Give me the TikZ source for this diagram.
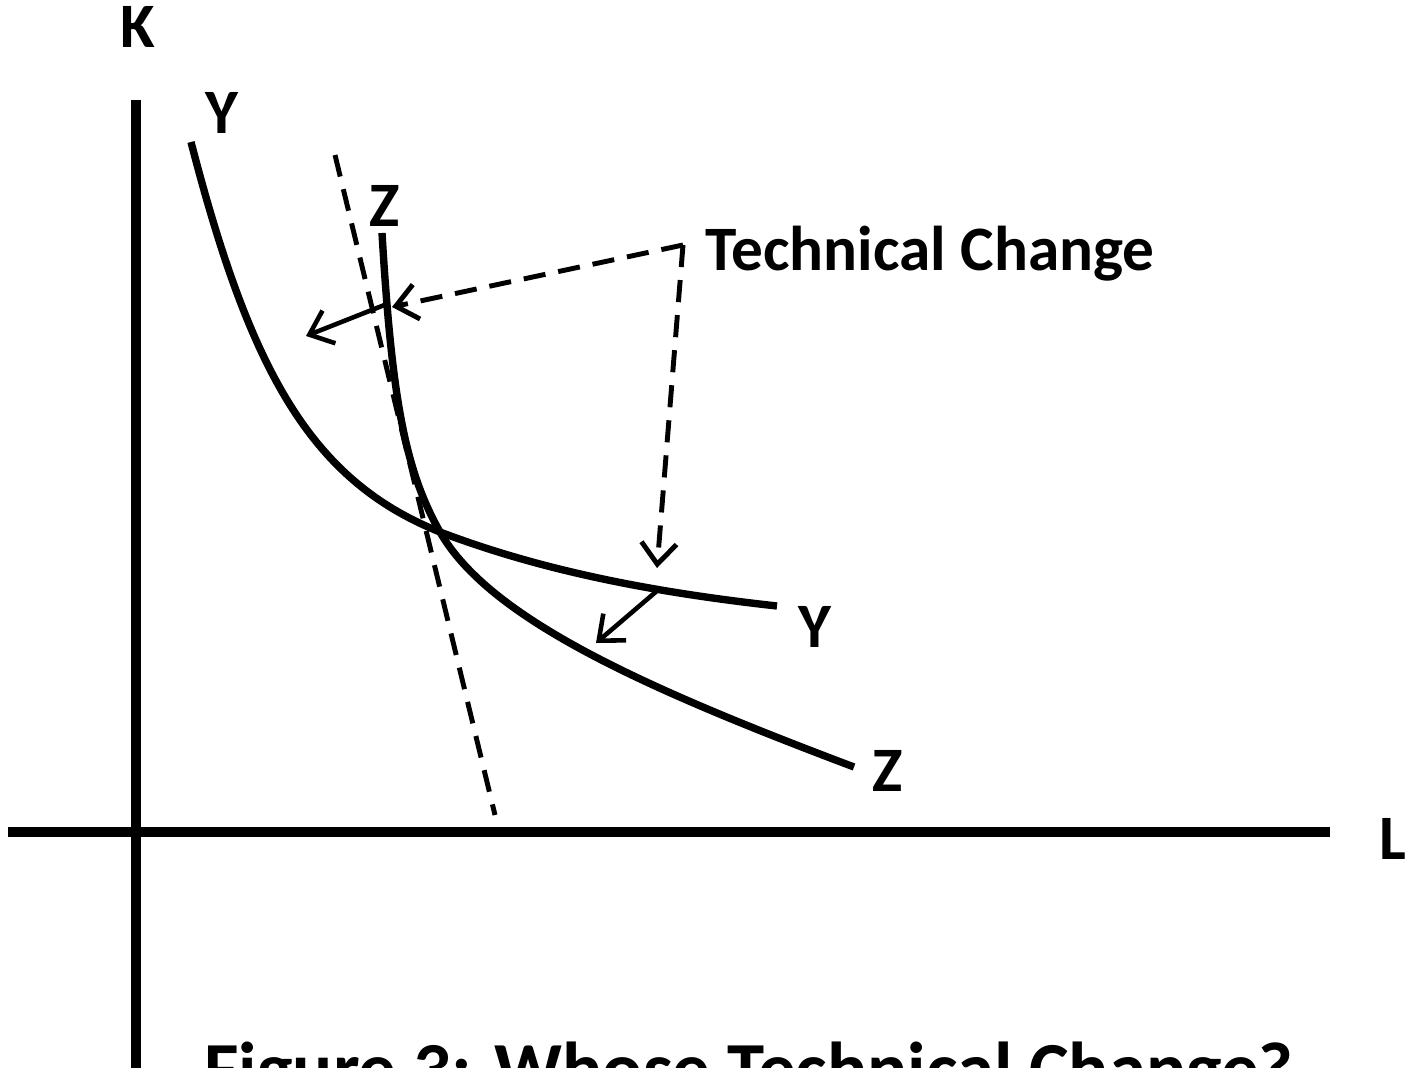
\documentclass[tikz,border=0pt]{standalone}
\usepackage{fontspec}
\setmainfont{Carlito}
\usetikzlibrary{arrows.meta}

\tikzset{
  axis/.style={line width=2.8pt},
  isoquant/.style={line width=2.1pt},
  dashline/.style={line width=1.4pt, dash pattern=on 6.3pt off 3.7pt},
  shiftarrow/.style={line width=1.3pt, -{Straight Barb[length=6pt,width=10pt]}},
  lab/.style={font=\fontsize{18}{20}\selectfont\bfseries, inner sep=0pt, anchor=base}
}

\begin{document}
\begin{tikzpicture}[x=0.01cm, y=-0.01cm]
\useasboundingbox (0,0) rectangle (1413,1067);

% axes
\coordinate (O) at (136,832);
\draw[axis] (136,100) -- (136,1100);
\draw[axis] (8,832) -- (1330,832);
\node[lab] (K) at (138,48) {K};
\node[lab] (L) at (1393,859) {L};

% isoquant Y
\coordinate (Ya) at (191,142);
\coordinate (X) at (440,532);
\coordinate (Yb) at (777,606);
\draw[isoquant] (Ya) .. controls (250,370) and (310,480) .. (X)
  .. controls (540,570) and (650,592) .. (Yb);
\node[lab] (Y1) at (222,134) {Y};
\node[lab] (Y2) at (815,647) {Y};

% isoquant Z
\coordinate (Za) at (382,233);
\coordinate (Zb) at (854,767);
\draw[isoquant] (Za) .. controls (392,400) and (405,470) .. (X)
  .. controls (490,620) and (650,690) .. (Zb);
\node[lab] (Z1) at (385,227) {Z};
\node[lab] (Z2) at (888,791) {Z};

% tangent
\coordinate (t1) at (335,155);
\coordinate (t2) at (495,815);
\draw[dashline] (t1) -- (t2);

% technical change
\node[lab, anchor=base west] (tc) at (705,271) {Technical Change};
\coordinate (c) at (683,245);
\coordinate (zhit) at (392,307);
\coordinate (yhit) at (657,568);
\draw[dashline, -{Straight Barb[length=6pt,width=10pt]}] (c) -- (zhit);
\draw[dashline, -{Straight Barb[length=6pt,width=10pt]}] (c) -- (yhit);

% shifts
\coordinate (zs) at (387,304);
\coordinate (ze) at (306,336);
\draw[shiftarrow] (zs) -- (ze);
\coordinate (ys) at (658,590);
\coordinate (ye) at (596,643);
\draw[shiftarrow] (ys) -- (ye);

% caption
\node[lab, anchor=base, font=\fontsize{21.3}{24}\selectfont\bfseries] (title) at (749,1094) {Figure 3: Whose Technical Change?};
\end{tikzpicture}
\end{document}
